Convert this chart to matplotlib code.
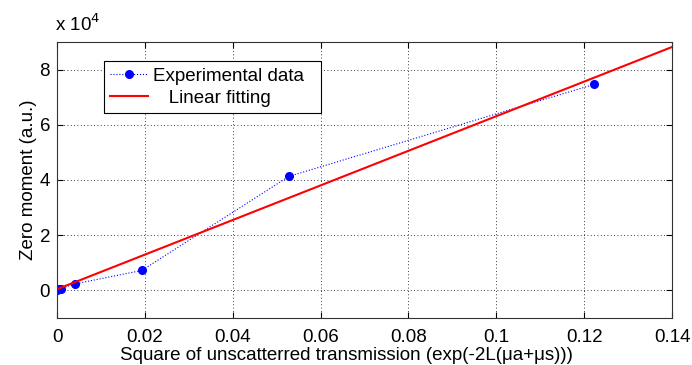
import numpy as np
import matplotlib
matplotlib.use("Agg")
import matplotlib.pyplot as plt
from matplotlib.ticker import FuncFormatter

plt.rcParams['font.family'] = ['Liberation Sans', 'DejaVu Sans']

# measured points
trans_sq = [0.0, 0.0003, 0.0008, 0.0040, 0.0193, 0.0528, 0.1222]
zero_moment = [0, 300, 600, 2300, 7200, 41300, 74600]

# linear fit coefficients
slope = 6.27e5
intercept = 400
fit_x = [0.0, 0.14]

fs = 13.5

fig = plt.figure(figsize=(6.92, 3.65), dpi=100)
ax = fig.add_axes([0.0824, 0.129, 0.8887, 0.756])

ax.plot(trans_sq, zero_moment, ':', color='blue', lw=0.8,
        marker='o', ms=5.5, mfc='blue', mec='blue', label='Experimental data  ')
fx = np.array(fit_x)
ax.plot(fx, slope * fx + intercept, '-', color='red', lw=1.5,
        label='   Linear fitting')

ax.set_xlim(0, 0.14)
ax.set_ylim(-1e4, 9e4)
ax.set_xticks(np.arange(0, 0.141, 0.02))
ax.set_yticks(np.arange(0, 8.1e4, 2e4))
ax.xaxis.set_major_formatter(FuncFormatter(lambda v, p: '0' if v == 0 else ('%g' % round(v, 2))))
ax.yaxis.set_major_formatter(FuncFormatter(lambda v, p: '%d' % round(v / 1e4)))
ax.tick_params(direction='in', top=True, right=True, labelsize=fs, length=4, pad=5)
ax.tick_params(axis='x', pad=8)
ax.grid(True, color='black', linestyle=(0, (1, 3)), lw=0.6)
for s in ax.spines.values():
    s.set_color('#333333')

ax.text(-0.003, 1.025, 'x 10$^4$', transform=ax.transAxes, fontsize=fs,
        ha='left', va='bottom')

ax.set_xlabel('Square of unscatterred transmission (exp(-2L(\u03bca+\u03bcs)))', fontsize=fs)
ax.xaxis.set_label_coords(0.4707, -0.105)
ax.set_ylabel('Zero moment (a.u.)', fontsize=fs, labelpad=2)

leg = ax.legend(loc='upper left', bbox_to_anchor=(0.076, 0.931), fontsize=fs,
                fancybox=False, framealpha=1, edgecolor='black',
                borderaxespad=0, handlelength=2.0, handletextpad=0.25,
                borderpad=0.35, labelspacing=0.25)
leg.get_frame().set_linewidth(0.8)

fig.savefig('out.png', dpi=100)
